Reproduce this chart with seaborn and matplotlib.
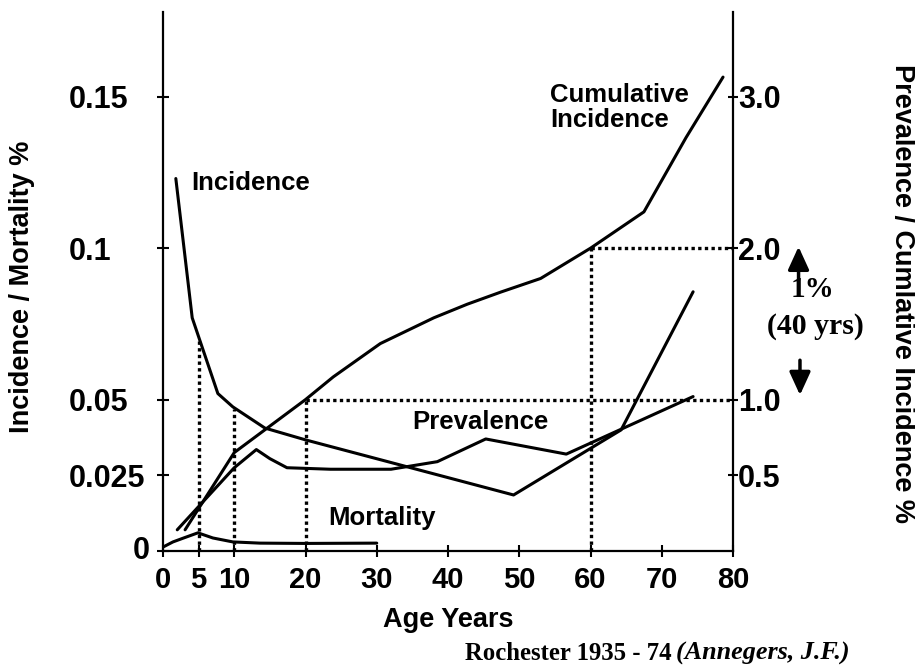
import matplotlib
matplotlib.use("Agg")
import matplotlib.pyplot as plt
import seaborn as sns

# values (Rochester 1935-74)
incidence_age = [1.8, 4.1, 7.7, 9.8, 14.3, 20, 49.2, 64.3, 74.4]
incidence = [0.123, 0.077, 0.052, 0.0476, 0.0406, 0.0367, 0.0185, 0.040, 0.0856]

mortality_age = [0, 1.4, 2.9, 4.9, 7, 9.8, 13.6, 20, 30]
mortality = [0.0013, 0.003, 0.0043, 0.006, 0.0043, 0.003, 0.0026, 0.0025, 0.0026]

# right axis (%)
prevalence_age = [2.0, 10, 13.1, 15, 17.4, 23.5, 32, 35.9, 38.5, 45.3, 56.6, 74.4]
prevalence = [0.14, 0.55, 0.67, 0.61, 0.55, 0.54, 0.54, 0.57, 0.59, 0.74, 0.64, 1.02]

cum_age = [3.1, 10, 20, 23.9, 30.5, 38, 42.7, 47.4, 53, 60, 67.5, 73.4, 78.6]
cum_incidence = [0.14, 0.65, 1.0, 1.15, 1.37, 1.54, 1.63, 1.71, 1.80, 2.0, 2.24, 2.73, 3.13]

# dotted guides
guide_x = [5, 10, 20, 60]
guide_top = [0.070, 0.047, 0.05, 0.1]
level_from = [20, 60]
level_y = [0.05, 0.1]

x_ticks = [0, 5, 10, 20, 30, 40, 50, 60, 70, 80]
left_ticks = [0, 0.025, 0.05, 0.1, 0.15]
left_labels = ["", "0.025", "0.05", "0.1", "0.15"]
right_ticks = [0.5, 1.0, 2.0, 3.0]
right_labels = ["0.5", "1.0", "2.0", "3.0"]

sns.set_theme(style="ticks")
plt.rcParams["font.family"] = ["Liberation Sans", "DejaVu Sans"]
plt.rcParams["text.color"] = "black"
plt.rcParams["axes.labelcolor"] = "black"
plt.rcParams["xtick.color"] = "black"
plt.rcParams["ytick.color"] = "black"

W, H = 915, 669
fig = plt.figure(figsize=(W / 100, H / 100), dpi=100)
ax = fig.add_axes([163 / W, 1 - 551 / H, 570 / W, 539 / H])
ax2 = ax.twinx()

ymax = 0.178
ax.set_xlim(0, 80)
ax.set_ylim(0, ymax)
ax2.set_ylim(0, ymax * 20)

lw = 2.2
sns.lineplot(x=incidence_age, y=incidence, ax=ax, color="black", lw=lw, estimator=None, sort=False)
sns.lineplot(x=mortality_age, y=mortality, ax=ax, color="black", lw=lw, estimator=None, sort=False)
sns.lineplot(x=prevalence_age, y=prevalence, ax=ax2, color="black", lw=lw, estimator=None, sort=False)
sns.lineplot(x=cum_age, y=cum_incidence, ax=ax2, color="black", lw=lw, estimator=None, sort=False)

dots = dict(color="black", lw=2.4, ls=(0, (1, 1)), solid_capstyle="butt")
for gx, gt in zip(guide_x, guide_top):
    ax.plot([gx, gx], [0, gt], **dots)
for lx, ly in zip(level_from, level_y):
    ax.plot([lx, 80], [ly, ly], **dots)

# axes styling
for s in ["top", "right"]:
    ax.spines[s].set_visible(False)
for s in ["top", "left", "bottom"]:
    ax2.spines[s].set_visible(False)
for s in ["left", "bottom"]:
    ax.spines[s].set_linewidth(1.6)
    ax.spines[s].set_color("black")
ax2.spines["right"].set_linewidth(1.6)
ax2.spines["right"].set_color("black")

ax.set_xticks(x_ticks, labels=[str(t) for t in x_ticks], fontweight="bold", fontsize=21)
ax.set_yticks(left_ticks, labels=left_labels, fontweight="bold", fontsize=22)
ax2.set_yticks(right_ticks, labels=right_labels, fontweight="bold", fontsize=22)
for lbl in ax.get_yticklabels():
    lbl.set_horizontalalignment("left")

ax.tick_params(axis="x", direction="inout", length=9, width=1.5, color="black", pad=6, bottom=True)
ax.tick_params(axis="y", direction="inout", length=8, width=1.5, color="black", pad=63.7, left=True)
ax2.tick_params(axis="y", direction="inout", length=7, width=1.5, color="black", pad=0, right=True)
ax.set_xlabel("")
ax.set_ylabel("")
ax2.set_ylabel("")

ax.text(-1.8, 0, "0", ha="right", va="center", fontsize=22, fontweight="bold")

# curve labels
lab = dict(fontsize=18.5, fontweight="bold", va="center", ha="left")
ax.text(3.9, 0.1216, "Incidence", **lab)
ax.text(54.3, 0.1465, "Cumulative\nIncidence", linespacing=1.05, **lab)
ax.text(35.0, 0.0426, "Prevalence", **lab)
ax.text(23.2, 0.0109, "Mortality", **lab)

# 1% over 40 years
arrow = dict(arrowstyle="-|>,head_length=0.7,head_width=0.32", color="black", lw=2.5,
             shrinkA=0, shrinkB=0, mutation_scale=20)
ax2.annotate("", xy=(89.2, 2.01), xytext=(89.2, 1.79), arrowprops=arrow, annotation_clip=False)
ax2.annotate("", xy=(89.4, 1.03), xytext=(89.4, 1.26), arrowprops=arrow, annotation_clip=False)
serif = dict(family=["Liberation Serif"], fontweight="bold", ha="center", va="center")
ax2.text(91.1, 1.725, "1%", fontsize=21, **serif)
ax2.text(91.6, 1.48, "(40 yrs)", fontsize=21.5, **serif)

# axis titles
fig.text(22 / W, 1 - 287 / H, "Incidence / Mortality %", rotation=90, ha="center", va="center",
         fontsize=19.5, fontweight="bold")
fig.text(902 / W, 1 - 293 / H, "Prevalence / Cumlative Incidence %", rotation=270, ha="center",
         va="center", fontsize=19.5, fontweight="bold")
fig.text(448 / W, 1 - 627 / H, "Age Years", ha="center", va="baseline", fontsize=19.5, fontweight="bold")

fig.text(465 / W, 1 - 660 / H, "Rochester 1935 - 74", family=["Liberation Serif"], fontweight="bold",
         fontsize=17.8, ha="left", va="baseline")
fig.text(676 / W, 1 - 660 / H, "(Annegers, J.F.)", family=["Liberation Serif"], fontweight="bold",
         style="italic", fontsize=18.8, ha="left", va="baseline")

fig.savefig("out.png", dpi=100)
